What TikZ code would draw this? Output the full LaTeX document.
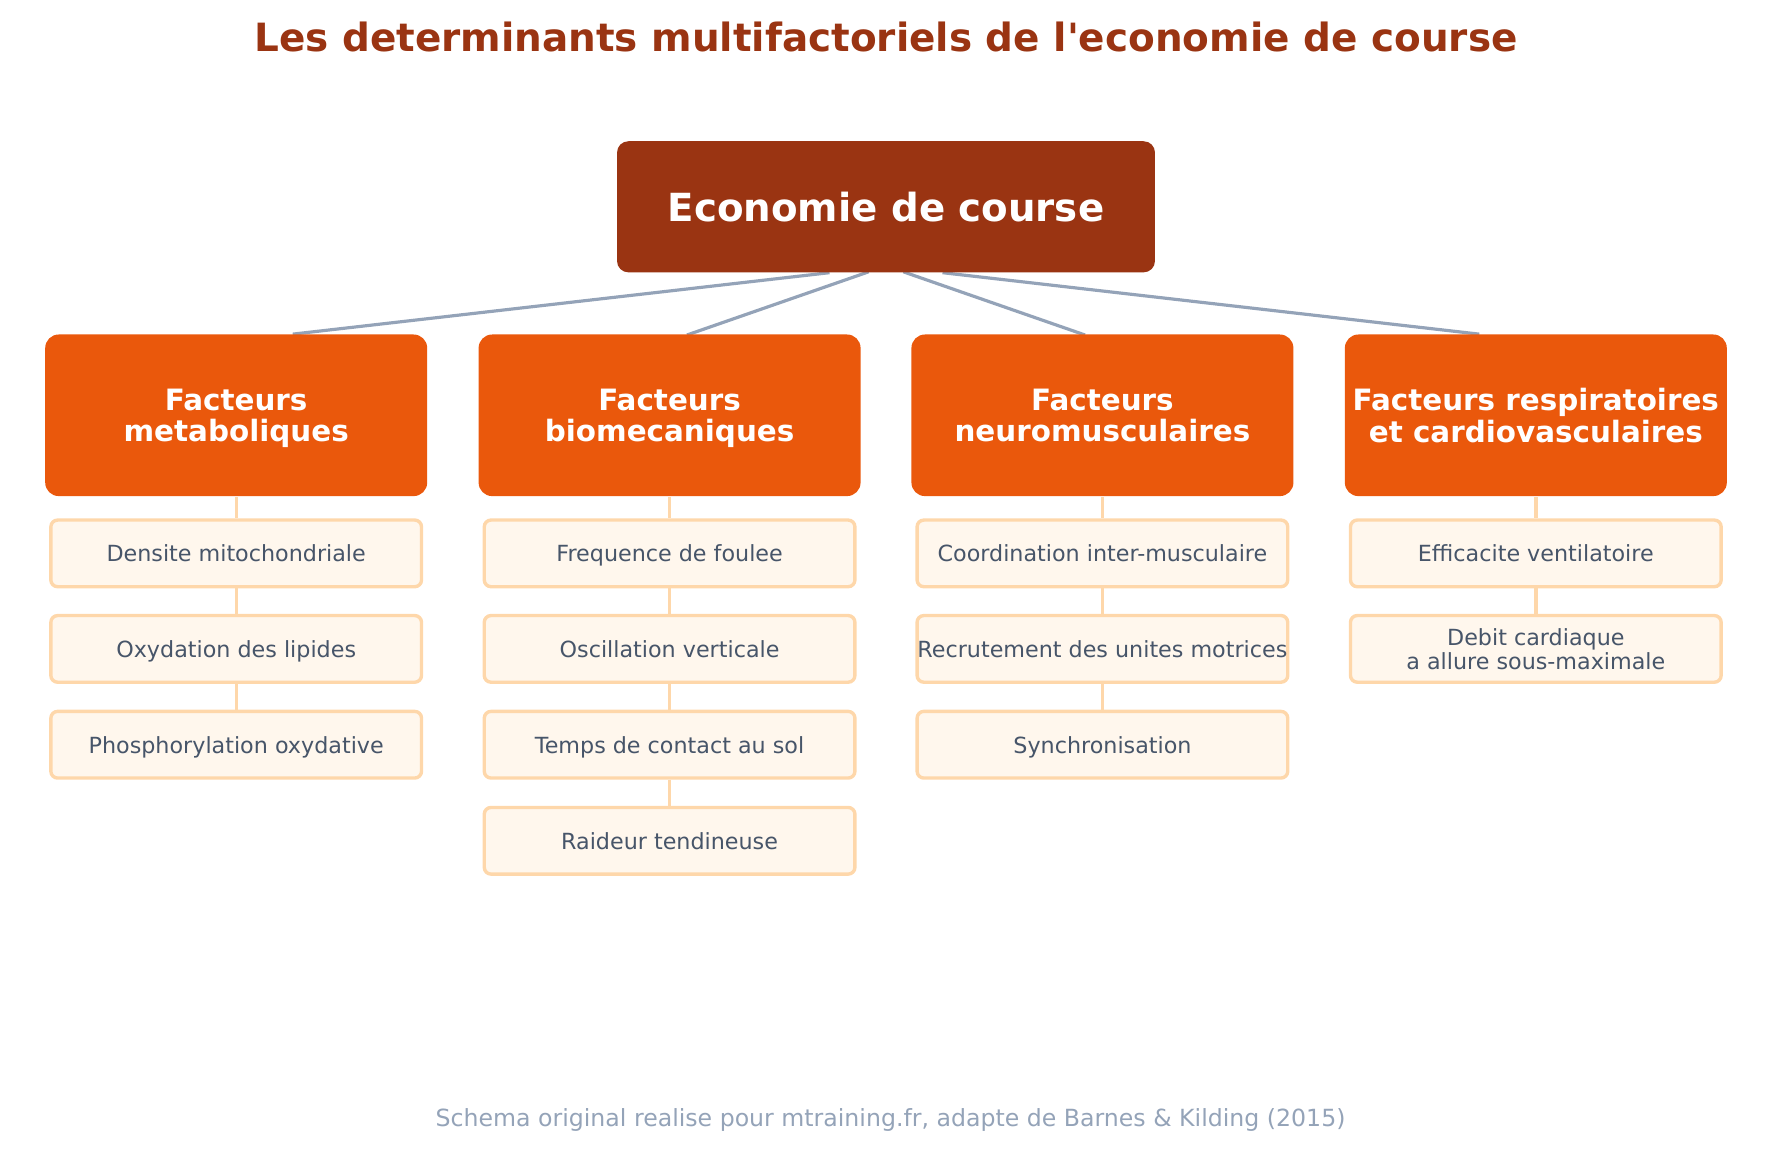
\documentclass[tikz,border=0pt]{standalone}
\usepackage{fontspec}
\setmainfont{DejaVu Sans}
\usepackage{tikz}
\usetikzlibrary{positioning, calc, backgrounds}
\usepackage{xcolor}
\definecolor{xrust}{HTML}{9A3412}
\definecolor{xorange}{HTML}{EA580C}
\definecolor{xcream}{HTML}{FFF7ED}
\definecolor{xpeach}{HTML}{FED7AA}
\definecolor{xslate}{HTML}{475569}
\definecolor{xgray}{HTML}{94A3B8}
\tikzset{
	titletext/.style={text=xrust, font=\fontsize{9.8}{11}\selectfont\bfseries, anchor=base},
	foottext/.style={text=xgray, font=\fontsize{5.95}{7}\selectfont},
	rootbox/.style={fill=xrust, rounded corners=1mm, minimum width=4.76cm, minimum height=1.16cm, inner sep=0pt, text=white, font=\fontsize{9.75}{11}\selectfont\bfseries},
	catbox/.style={fill=xorange, rounded corners=1.2mm, minimum width=3.38cm, minimum height=1.43cm, inner sep=0pt, text depth=0pt, text=white, align=center, font=\fontsize{7.4}{8}\selectfont\bfseries},
	subbox/.style={draw=xpeach, fill=xcream, line width=0.85pt, rounded corners=0.6mm, minimum width=3.28cm, minimum height=0.59cm, inner sep=0pt, text depth=0pt, text=xslate, align=center, font=\fontsize{5.6}{5.9}\selectfont},
	rootlink/.style={draw=xgray, line width=0.8pt, shorten <=-1pt, shorten >=-1pt},
	sublink/.style={draw=xpeach, line width=0.85pt},
}
\begin{document}
\begin{tikzpicture}
		\useasboundingbox (0,0) rectangle (15.68,10.17);

		\node[titletext] (title) at (7.84,9.713) {Les determinants multifactoriels de l\textquotesingle economie de course};
		\node[rootbox] (root) at (7.84,8.34) {Economie de course};

		% the four families of factors
		\node[catbox] (metab) at (2.09,6.495) {Facteurs\\metaboliques};
		\node[catbox] (biomec) at (5.925,6.495) {Facteurs\\biomecaniques};
		\node[catbox] (neuro) at (9.755,6.495) {Facteurs\\neuromusculaires};
		\node[catbox] (cardio) at (13.59,6.495) {Facteurs respiratoires\\et cardiovasculaires};

		\node[subbox] (metab1) at (2.09,5.273) {Densite mitochondriale};
		\node[subbox] (metab2) at (2.09,4.428) {Oxydation des lipides};
		\node[subbox] (metab3) at (2.09,3.58) {Phosphorylation oxydative};

		\node[subbox] (biomec1) at (5.925,5.273) {Frequence de foulee};
		\node[subbox] (biomec2) at (5.925,4.428) {Oscillation verticale};
		\node[subbox] (biomec3) at (5.925,3.58) {Temps de contact au sol};
		\node[subbox] (biomec4) at (5.925,2.73) {Raideur tendineuse};

		\node[subbox] (neuro1) at (9.755,5.273) {Coordination inter-musculaire};
		\node[subbox] (neuro2) at (9.755,4.428) {Recrutement des unites motrices};
		\node[subbox] (neuro3) at (9.755,3.58) {Synchronisation};

		\node[subbox] (cardio1) at (13.59,5.273) {Efficacite ventilatoire};
		\node[subbox] (cardio2) at (13.59,4.428) {Debit cardiaque\\a allure sous-maximale};

		\begin{scope}[on background layer]
			\foreach \c/\d in {metab/0.535, biomec/0.187, neuro/-0.187, cardio/-0.535}
				\draw[rootlink] ($(root.south)-(\d,0)$) -- ($(\c.north)+(\d,0)$);
		\end{scope}

		\foreach \a/\b in {metab/metab1, metab1/metab2, metab2/metab3, biomec/biomec1, biomec1/biomec2, biomec2/biomec3, biomec3/biomec4, neuro/neuro1, neuro1/neuro2, neuro2/neuro3, cardio/cardio1, cardio1/cardio2}
			\draw[sublink] (\a) -- (\b);

		\node[foottext] (foot) at (7.88,0.26) {Schema original realise pour mtraining.fr, adapte de Barnes \& Kilding (2015)};
	\end{tikzpicture}
\end{document}
